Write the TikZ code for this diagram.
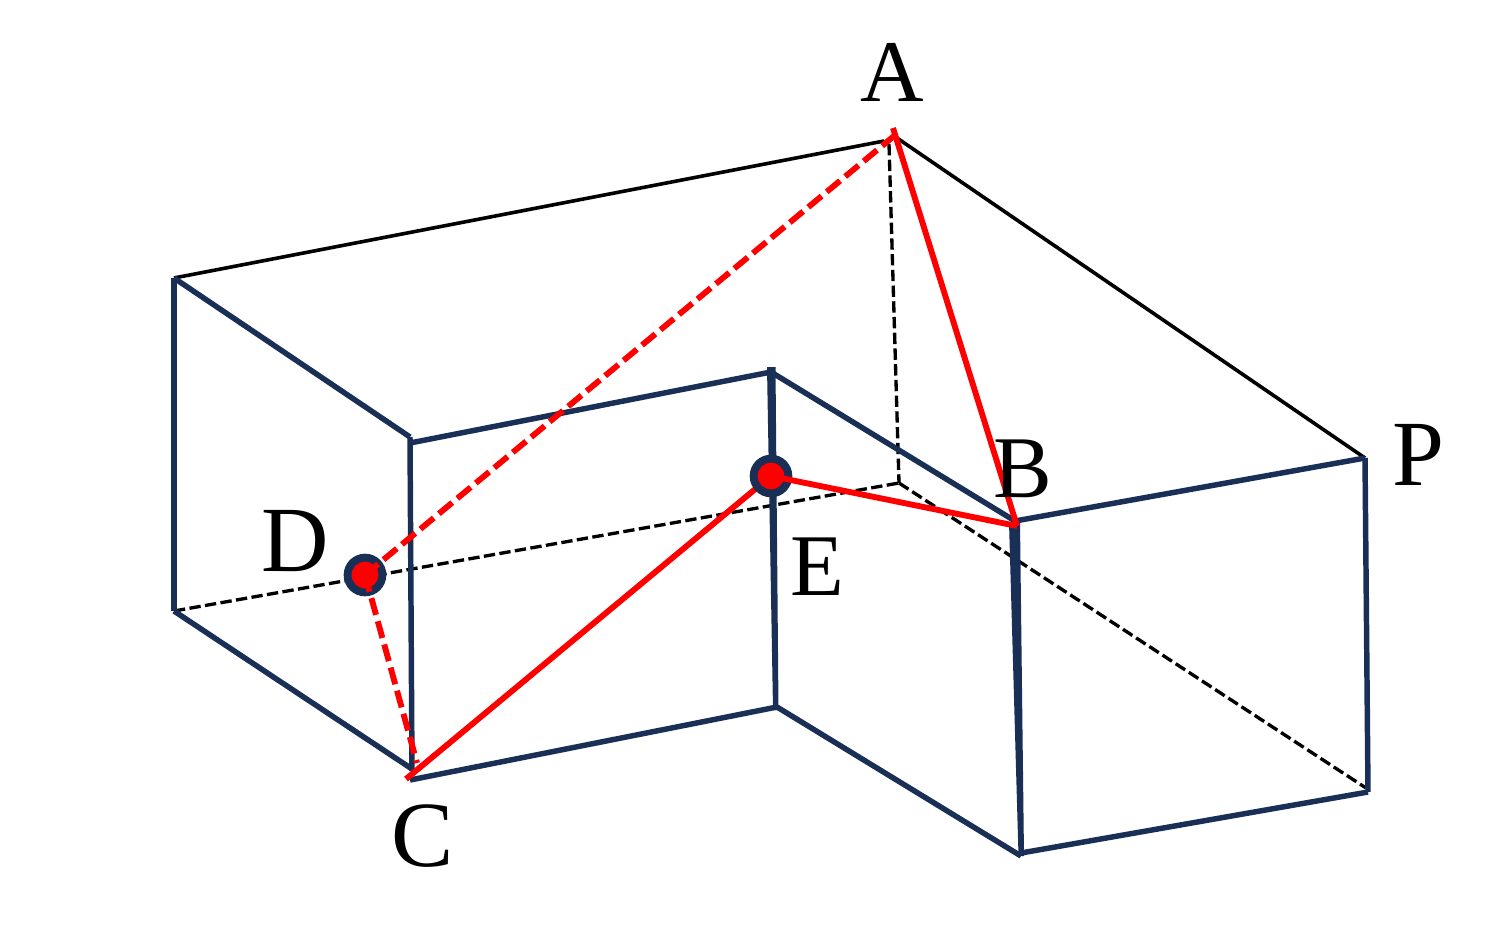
\documentclass[tikz,border=0pt]{standalone}
\usepackage{fontspec}
\setmainfont{Liberation Serif}
\definecolor{navy}{HTML}{1A2F55}
\tikzset{
 navyline/.style={draw=navy,line width=4.1pt,line cap=butt},
 blackline/.style={draw=black,line width=2.7pt},
 hidden/.style={draw=black,line width=2.5pt,dash pattern=on 8.5pt off 3.3pt},
 redline/.style={draw=red,line width=4.4pt},
 reddash/.style={draw=red,line width=4.4pt,dash pattern=on 13pt off 5pt},
 lbl/.style={font=\fontsize{66}{70}\selectfont,text=black,inner sep=0pt,anchor=base},
 lblbig/.style={lbl,font=\fontsize{70}{74}\selectfont},
 dotmark/.style={circle,fill=navy,draw=none,minimum size=32pt,inner sep=0pt}
}
\begin{document}
\begin{tikzpicture}[x=0.75pt,y=-0.75pt]
\useasboundingbox (0,0) rectangle (1488,943);
\fill[white] (0,0) rectangle (1488,943);
% vertices
\coordinate (tl) at (174,278);
\coordinate (bl) at (174,611);
\coordinate (ct) at (410,437);
\coordinate (ct2) at (410,443);
\coordinate (cb) at (412,771);
\coordinate (cb2) at (410,780);
\coordinate (bl2) at (412,769);
\coordinate (et2) at (771,372);
\coordinate (eb2) at (777,707);
\coordinate (bt) at (1015,521);
\coordinate (bb) at (1021,856);
\coordinate (bb2) at (1021,853);
\coordinate (pt) at (1365,458);
\coordinate (pb) at (1368,792);
\coordinate (at) at (884,141);
\coordinate (at2) at (897,138);
\coordinate (ht) at (889,144);
\coordinate (hc) at (899,483);
\coordinate (hp) at (1366,788);
\coordinate (redA) at (893,128);
\coordinate (redAd) at (894,136);
\coordinate (redB) at (1017,526);
\coordinate (redC) at (406,779);
\coordinate (redCd) at (417,763);
% hidden
\draw[hidden] (bl) -- (hc);
\draw[hidden] (ht) -- (hc);
\draw[hidden] (hc) -- (hp);
% black
\draw[blackline] (tl) -- (at);
\draw[blackline] (at2) -- (pt);
% navy
\draw[navyline] (tl) -- (bl);
\draw[navyline] (tl) -- (ct);
\draw[navyline] (bl) -- (bl2);
\draw[navyline] (ct) -- (cb);
\draw[navyline] (ct2) -- (et2);
\fill[navy] (767,367) -- (775.5,367) -- (778.5,710) -- (773,710) -- cycle;
\draw[navyline] (et2) -- (bt);
\draw[navyline] (cb2) -- (eb2);
\draw[navyline] (eb2) -- (bb);
\draw[navyline] (bt) -- (pt);
\draw[navyline] (pt) -- (pb);
\draw[navyline] (bb2) -- (pb);
\fill[navy] (1009,522) -- (1020,522) -- (1024,856) -- (1018.5,856) -- cycle;
% red below the points
\draw[redline] (redC) -- (771,476);
% points
\node[dotmark] (D) at (365,575) {};
\node[dotmark] (E) at (771,476) {};
% red
\draw[redline] (redA) -- (redB);
\draw[redline] (E.center) -- (redB);
\draw[reddash] (D.center) -- (redAd);
\draw[reddash] (D.center) -- (redCd);
\fill[red] (D) circle (10pt);
\fill[red] (E) circle (10pt);
% labels
\node[lbl] (la) at (892,101) {A};
\node[lbl] (lb) at (1023,497) {B};
\node[lblbig] (lc) at (423,866) {C};
\node[lblbig] (ld) at (295,571) {D};
\node[lbl] (le) at (817,595) {E};
\node[lblbig] (lp) at (1418,485) {P};
\end{tikzpicture}
\end{document}
